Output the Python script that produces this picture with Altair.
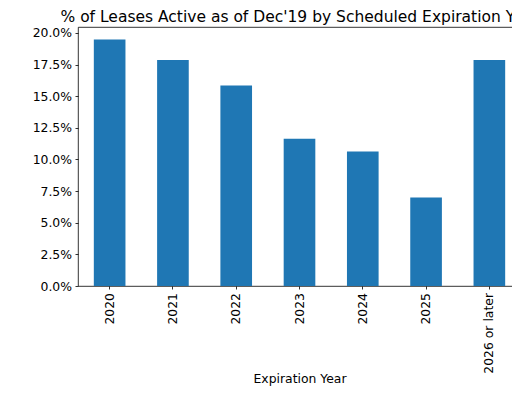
import altair as alt
import pandas as pd

years = ["2020", "2021", "2022", "2023", "2024", "2025", "2026 or later"]
shares = [0.1949, 0.1786, 0.1585, 0.1163, 0.1063, 0.0699, 0.1786]
y_ticks = [0.0, 0.025, 0.05, 0.075, 0.10, 0.125, 0.15, 0.175, 0.20]

df = pd.DataFrame({"year": years, "share": shares})

FONT = "DejaVu Sans"

chart = (
    alt.Chart(df)
    .mark_bar(color="#1f77b4")
    .encode(
        x=alt.X(
            "year:N",
            sort=None,
            scale=alt.Scale(paddingInner=0.5, paddingOuter=0.25),
            axis=alt.Axis(
                title="Expiration Year",
                labelAngle=270,
                labelFontSize=12.4,
                labelColor="#000",
                labelPadding=3.5,
                tickSize=3,
                tickColor="#000",
                tickWidth=0.8,
                bandPosition=0.5,
                domain=False,
                grid=False,
                titleFontSize=12.4,
                titleFontWeight="normal",
                titleColor="#000",
                titleY=96.5,
                titleBaseline="alphabetic",
            ),
        ),
        y=alt.Y(
            "share:Q",
            scale=alt.Scale(domain=[0, 0.2047], nice=False, zero=True),
            axis=alt.Axis(
                title=None,
                values=y_ticks,
                format=".1%",
                labelFontSize=12.4,
                labelColor="#000",
                labelPadding=3.5,
                tickSize=3,
                tickColor="#000",
                tickWidth=0.8,
                domain=False,
                grid=False,
            ),
        ),
    )
    .properties(
        width=443,
        height=259,
        title=alt.TitleParams(
            text="% of Leases Active as of Dec'19 by Scheduled Expiration Year",
            fontSize=15.5,
            fontWeight="normal",
            color="#000",
            anchor="middle",
            frame="group",
            offset=1,
        ),
        autosize=alt.AutoSizeParams(type="none"),
        padding={"left": 70, "top": 19, "right": -9, "bottom": 100},
    )
    .configure(font=FONT)
    .configure_view(stroke="#000", strokeWidth=0.8)
)

chart.save("out.html", embed_options={"renderer": "svg", "actions": False})
